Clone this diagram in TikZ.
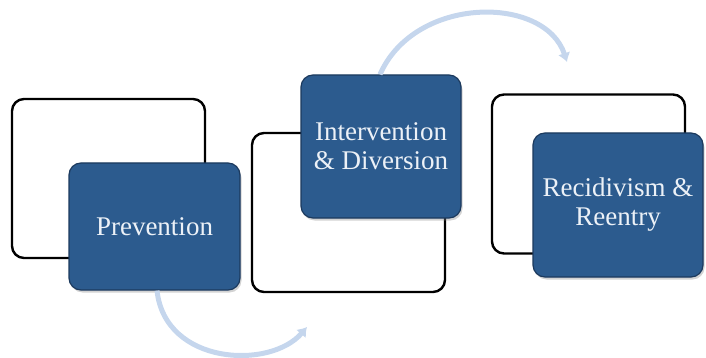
\documentclass[tikz,border=0pt]{standalone}
\usepackage{fontspec}
\setmainfont{Liberation Serif}
\usetikzlibrary{shapes.geometric, arrows.meta, shadows}
\definecolor{boxblue}{RGB}{44,91,142}
\definecolor{boxedge}{RGB}{28,58,94}
\definecolor{arcblue}{RGB}{197,214,237}
\definecolor{boxtext}{RGB}{236,241,247}
\tikzstyle{frame} = [rectangle, rounded corners=12pt, minimum width=193pt, minimum height=159pt, draw=black, line width=2.4pt, fill=white]
\tikzstyle{stage} = [rectangle, rounded corners=12pt, draw=boxedge, line width=1.2pt, fill=boxblue, text=boxtext, align=center, font=\fontsize{27}{29}\selectfont, drop shadow={opacity=0.35, shadow xshift=1.5pt, shadow yshift=-2.5pt}]
\tikzstyle{arrow} = [line width=5pt, draw=arcblue, -{Latex[length=9pt,width=13pt]}]

\begin{document}
\begin{tikzpicture}[x=1pt, y=-1pt]
\useasboundingbox (0,0) rectangle (706,358);

\node (frame1) [frame] at (108.5,178.5) {};
\node (frame2) [frame] at (348.5,212.5) {};
\node (frame3) [frame] at (588.5,174) {};

\coordinate (tip1) at (307,327);
\coordinate (tip2) at (567,62);

\node (prev) [stage, minimum width=171pt, minimum height=127pt] at (154.5,226.5) {Prevention};
\node (inter) [stage, minimum width=160pt, minimum height=143pt] at (381,146.5) {Intervention\\\& Diversion};
\node (recid) [stage, minimum width=170pt, minimum height=144pt] at (618,205) {Recidivism \&\\Reentry};

\draw [arrow] (prev.south) ++(2.5,0) .. controls (165,365) and (270,370) .. (tip1);
\draw [arrow] (inter.north) ++(-1,0) .. controls (415,-5) and (545,-5) .. (tip2);

\end{tikzpicture}
\end{document}
